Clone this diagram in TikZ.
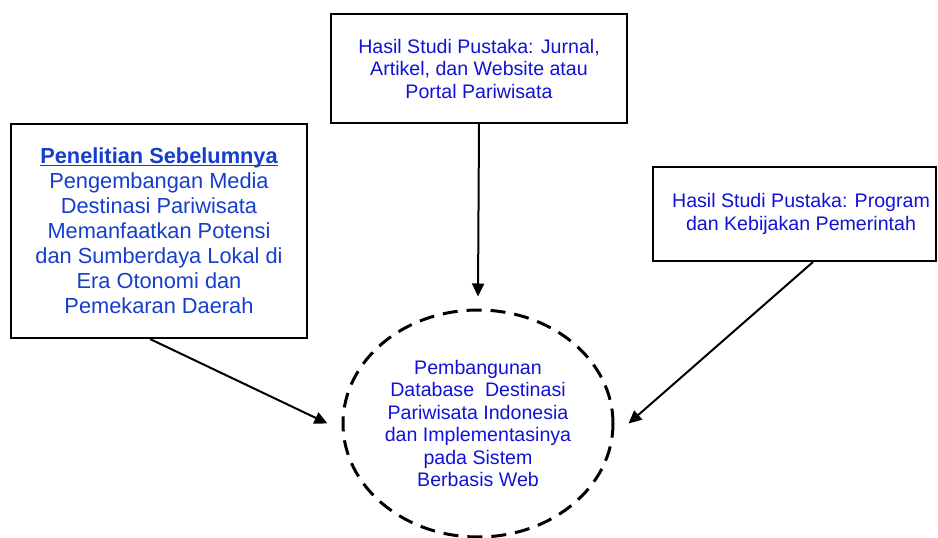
\documentclass[tikz,border=0pt]{standalone}
\usepackage{fontspec}
\setmainfont{Liberation Sans}
\usetikzlibrary{arrows.meta,shapes.geometric}
\definecolor{txtblue}{RGB}{18,18,215}
\definecolor{headblue}{RGB}{22,62,205}
\tikzset{
  box/.style={draw=black, line width=2pt, fill=white, align=center, inner sep=0pt},
  smalltext/.style={text=txtblue, font=\fontsize{19.6}{22.5}\selectfont},
  bigtext/.style={text=headblue, font=\fontsize{21.8}{25}\selectfont},
  goal/.style={draw=black, ellipse, line width=3pt, dash pattern=on 15pt off 9pt,
    align=center, inner sep=0pt},
  arr/.style={line width=2pt, -{Triangle[length=13pt,width=12pt]}}
}
\begin{document}
\begin{tikzpicture}[x=1pt,y=-1pt]
  \useasboundingbox (0,0) rectangle (938,538);
  \clip (0,0) rectangle (938,538);

  % source boxes
  \node[box, smalltext, minimum width=296pt, minimum height=109pt] (pustaka) at (479,68.5)
    {Hasil Studi Pustaka: Jurnal,\\Artikel, dan Website atau\\Portal Pariwisata};
  \node[box, bigtext, minimum width=296pt, minimum height=214pt] (prev) at (159,231)
    {\textbf{\underline{\smash{Penelitian Sebelumnya}}}\vphantom{Py}\\Pengembangan Media\\Destinasi Pariwisata\\Memanfaatkan Potensi\\dan Sumberdaya Lokal di\\Era Otonomi dan\\Pemekaran Daerah};
  \node[box, minimum width=283pt, minimum height=94pt] (program) at (794.5,214) {};
  \node[smalltext, align=center] (programtext) at (801,214)
    {Hasil Studi Pustaka: Program\\dan Kebijakan Pemerintah};

  % research target
  \node[goal, smalltext, minimum width=270pt, minimum height=227pt] (db) at (478,423.5)
    {Pembangunan\\Database~~Destinasi\\Pariwisata Indonesia\\dan Implementasinya\\pada Sistem\\Berbasis Web};

  % connectors
  \draw[arr] (pustaka.south) -- ([yshift=12pt]db.north);
  \draw[arr] ([xshift=-9pt]prev.south) -- ([xshift=-14pt]db.west);
  \draw[arr] ([xshift=18.5pt]program.south) -- ([xshift=14pt]db.east);
\end{tikzpicture}
\end{document}
